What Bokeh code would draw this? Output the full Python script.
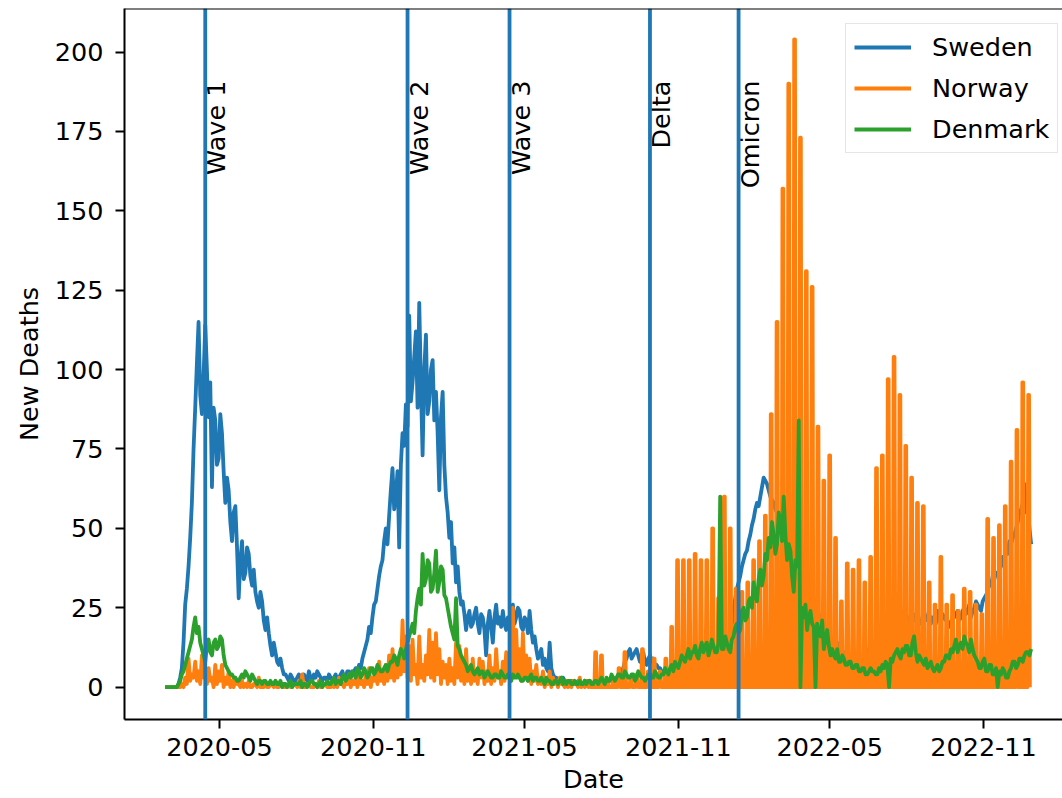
import pandas as pd
from bokeh.plotting import figure
from bokeh.models import (Range1d, FixedTicker, DatetimeTickFormatter, Span,
                          Legend, LegendItem, ColumnDataSource)
from bokeh.core.properties import value
from bokeh.embed import file_html
from bokeh.resources import INLINE

# ---------------- data ----------------
series_start = "2020-02-26"      # first sample, one sample every 2 days
sweden = [
    0, 0, 0, 0, 0, 0, 0, 0, 1, 3, 6, 14, 26, 31, 38, 47, 58, 75, 88, 102,
    115, 92, 86, 98, 114, 100, 85, 96, 63, 88, 84, 70, 72, 86, 80, 68, 58, 66, 62, 52,
    46, 55, 57, 44, 28, 40, 46, 34, 36, 44, 42, 35, 32, 37, 30, 27, 25, 30, 27, 21,
    18, 22, 17, 13, 10, 14, 11, 8, 7, 9, 6, 4, 4, 3, 2, 4, 3, 2, 2, 3,
    4, 3, 2, 4, 3, 2, 5, 3, 2, 4, 3, 5, 4, 3, 2, 3, 3, 2, 4, 3,
    2, 3, 4, 2, 3, 4, 5, 3, 3, 5, 5, 3, 4, 5, 6, 5, 7, 6, 9, 11,
    13, 15, 19, 17, 22, 26, 27, 31, 35, 38, 40, 46, 50, 45, 54, 62, 69, 56, 60, 68,
    44, 70, 80, 76, 89, 82, 117, 90, 96, 104, 112, 88, 121, 95, 73, 100, 111, 86, 90, 100,
    103, 84, 93, 80, 62, 85, 93, 70, 60, 55, 47, 52, 39, 44, 33, 38, 30, 26, 27, 23,
    18, 22, 24, 19, 20, 23, 25, 20, 17, 23, 22, 18, 10, 20, 24, 19, 14, 22, 26, 20,
    22, 19, 24, 20, 18, 22, 20, 24, 26, 20, 22, 25, 24, 19, 18, 22, 21, 17, 24, 18,
    14, 16, 12, 9, 10, 12, 7, 9, 6, 5, 14, 6, 4, 3, 3, 2, 2, 3, 3, 2,
    2, 1, 1, 2, 2, 1, 1, 2, 2, 1, 1, 2, 1, 1, 2, 1, 1, 2, 2, 1,
    1, 2, 2, 1, 1, 2, 2, 3, 3, 2, 2, 3, 4, 5, 6, 8, 9, 11, 12, 9,
    10, 11, 12, 10, 8, 9, 11, 8, 7, 9, 10, 8, 9, 7, 7, 6, 6, 5, 5, 4,
    4, 3, 5, 4, 3, 4, 4, 3, 3, 4, 4, 3, 3, 4, 4, 5, 4, 5, 5, 4,
    5, 6, 6, 5, 5, 7, 7, 8, 8, 9, 9, 11, 10, 12, 12, 13, 14, 16, 17, 20,
    24, 28, 31, 33, 35, 38, 40, 42, 43, 46, 48, 51, 53, 56, 58, 57, 60, 63, 66, 65,
    64, 62, 60, 59, 58, 56, 55, 53, 52, 51, 50, 48, 46, 45, 44, 42, 40, 39, 38, 37,
    35, 34, 33, 31, 30, 29, 28, 27, 26, 25, 24, 23, 22, 21, 20, 19, 18, 17, 16, 15,
    15, 14, 14, 13, 12, 11, 10, 11, 12, 10, 9, 10, 10, 9, 8, 9, 9, 10, 10, 11,
    10, 12, 11, 13, 12, 11, 13, 14, 14, 16, 15, 14, 16, 18, 17, 19, 18, 21, 20, 19,
    22, 20, 24, 23, 22, 21, 20, 22, 21, 23, 22, 20, 20, 22, 24, 21, 22, 23, 20, 22,
    22, 20, 24, 22, 20, 23, 22, 21, 21, 19, 20, 22, 22, 23, 24, 21, 22, 24, 25, 23,
    24, 26, 22, 24, 25, 27, 26, 25, 24, 27, 28, 29, 30, 33, 32, 35, 34, 36, 36, 37,
    38, 41, 40, 43, 42, 46, 45, 47, 48, 50, 52, 55, 56, 58, 64, 55, 56, 50, 45,
]
denmark = [
    0, 0, 0, 0, 0, 0, 0, 0, 1, 2, 4, 5, 7, 9, 11, 13, 15, 19, 22, 17,
    19, 14, 12, 10, 8, 13, 15, 11, 10, 14, 15, 12, 13, 16, 15, 10, 7, 6, 5, 4,
    4, 3, 3, 2, 2, 3, 4, 3, 5, 4, 3, 2, 4, 3, 2, 1, 2, 2, 1, 2,
    2, 1, 1, 2, 1, 1, 2, 1, 1, 2, 0, 1, 1, 0, 1, 2, 0, 1, 1, 1,
    1, 2, 0, 1, 1, 0, 1, 2, 2, 1, 1, 0, 1, 2, 0, 1, 1, 2, 1, 1,
    2, 3, 1, 2, 2, 1, 3, 4, 2, 3, 4, 3, 5, 4, 3, 6, 5, 3, 4, 6,
    5, 3, 4, 6, 6, 4, 5, 7, 6, 5, 5, 6, 7, 5, 7, 8, 8, 10, 9, 7,
    10, 12, 11, 9, 12, 14, 16, 18, 20, 17, 24, 28, 31, 26, 42, 32, 34, 40, 39, 30,
    31, 36, 43, 30, 33, 38, 37, 29, 28, 25, 22, 19, 17, 15, 28, 13, 12, 10, 9, 8,
    7, 5, 6, 7, 5, 4, 5, 6, 4, 5, 5, 3, 4, 5, 4, 3, 3, 4, 4, 3,
    3, 5, 4, 3, 3, 4, 3, 2, 4, 3, 3, 4, 3, 2, 2, 3, 3, 2, 3, 4,
    2, 3, 3, 2, 2, 3, 2, 1, 3, 2, 2, 1, 1, 2, 2, 1, 2, 3, 1, 2,
    1, 2, 2, 1, 1, 2, 1, 1, 2, 1, 1, 2, 1, 2, 2, 1, 1, 2, 2, 1,
    2, 3, 2, 1, 3, 2, 2, 4, 3, 2, 3, 4, 4, 3, 3, 5, 4, 3, 3, 4,
    4, 2, 3, 5, 4, 3, 3, 2, 3, 4, 4, 3, 3, 5, 4, 3, 3, 4, 4, 6,
    5, 4, 6, 7, 5, 8, 7, 6, 8, 10, 9, 8, 10, 12, 9, 11, 11, 13, 10, 9,
    12, 14, 11, 13, 14, 10, 12, 15, 13, 11, 11, 14, 60, 12, 12, 16, 14, 12, 11, 15,
    16, 19, 20, 17, 18, 24, 25, 21, 22, 27, 28, 25, 33, 29, 27, 34, 37, 32, 35, 42,
    40, 47, 44, 52, 48, 42, 45, 55, 52, 46, 60, 48, 40, 45, 43, 35, 30, 40, 38, 84,
    0, 25, 22, 26, 18, 22, 24, 20, 19, 0, 20, 17, 16, 21, 12, 15, 18, 13, 10, 12,
    10, 9, 12, 8, 8, 10, 9, 7, 7, 8, 8, 6, 6, 7, 7, 5, 5, 6, 6, 4,
    4, 5, 6, 5, 5, 4, 4, 6, 5, 7, 6, 8, 7, 0, 9, 8, 10, 11, 12, 10,
    9, 12, 11, 13, 13, 10, 10, 14, 16, 11, 8, 10, 9, 8, 7, 9, 6, 7, 8, 6,
    5, 6, 7, 5, 6, 8, 8, 10, 10, 9, 12, 11, 13, 15, 11, 13, 14, 12, 16, 14,
    13, 11, 15, 12, 10, 9, 8, 6, 6, 8, 9, 5, 5, 7, 7, 4, 4, 6, 0, 5,
    4, 6, 5, 3, 3, 5, 6, 8, 8, 6, 7, 9, 9, 8, 10, 11, 11, 10, 12,
]
norway_daily = [          # same 2-day grid, until mid July 2021
    0, 0, 0, 0, 0, 0, 0, 0, 0, 0, 1, 0, 3, 1, 9, 2, 4, 3, 8, 2,
    5, 1, 10, 3, 4, 1, 6, 2, 3, 0, 7, 1, 5, 2, 7, 0, 3, 1, 5, 0,
    2, 0, 3, 1, 1, 0, 2, 0, 1, 0, 2, 0, 0, 1, 1, 0, 3, 0, 0, 0,
    1, 0, 0, 1, 1, 0, 2, 0, 0, 1, 1, 0, 0, 0, 1, 0, 0, 1, 1, 0,
    2, 0, 4, 0, 0, 1, 1, 0, 0, 0, 1, 0, 2, 0, 0, 1, 1, 0, 0, 0,
    2, 0, 1, 0, 3, 1, 1, 0, 2, 1, 4, 0, 2, 1, 3, 0, 5, 1, 2, 0,
    4, 1, 6, 0, 3, 2, 5, 1, 8, 2, 4, 1, 7, 2, 10, 3, 12, 2, 8, 3,
    9, 4, 21, 5, 16, 3, 13, 2, 15, 4, 7, 1, 16, 3, 7, 2, 10, 4, 18, 3,
    14, 2, 17, 4, 12, 1, 8, 3, 7, 1, 9, 2, 6, 1, 14, 3, 13, 2, 8, 1,
    12, 2, 6, 1, 9, 2, 5, 1, 9, 3, 8, 1, 5, 2, 10, 1, 6, 2, 12, 3,
    5, 1, 8, 2, 11, 3, 4, 2, 25, 4, 18, 3, 12, 2, 17, 3, 10, 2, 9, 1,
    5, 2, 7, 1, 3, 1, 5, 0, 2, 1, 5, 0, 3, 1, 2, 0, 3, 1, 1, 0,
    2, 0, 1, 0, 2, 1, 1, 0, 3, 0, 1, 0, 2,
]
norway_weekly_start = "2021-07-18"   # weekly reports from here on
norway_weekly = [
    2, 11, 10, 2, 2, 6, 11, 3, 4, 12,
    5, 9, 5, 9, 19, 40, 40, 40, 42, 40,
    40, 50, 28, 60, 50, 31, 30, 33, 40, 46,
    54, 86, 115, 157, 190, 204, 173, 131, 126, 82,
    65, 73, 47, 27, 39, 37, 40, 33, 41, 69,
    73, 97, 104, 92, 76, 66, 58, 57, 33, 26,
    41, 26, 29, 24, 31, 30, 26, 23, 53, 47,
    51, 57, 71, 81, 96, 92,
]
event_dates = ["2020-04-14", "2020-12-12", "2021-04-13", "2021-09-28", "2022-01-12"]
event_labels = ["Wave 1", "Wave 2", "Wave 3", "Delta", "Omicron"]
x_tick_labels = ["2020-05", "2020-11", "2021-05", "2021-11", "2022-05", "2022-11"]
y_ticks = [0, 25, 50, 75, 100, 125, 150, 175, 200]
series_names = ["Sweden", "Norway", "Denmark"]
series_colors = ["#1f77b4", "#ff7f0e", "#2ca02c"]

# ---------------- build sources ----------------
grid = pd.date_range(series_start, periods=len(sweden), freq="2D")
src_se = ColumnDataSource(dict(x=grid, y=sweden))
src_dk = ColumnDataSource(dict(x=grid[:len(denmark)], y=denmark))

nx = list(grid[:len(norway_daily)])
ny = list(norway_daily)
wk = pd.date_range(norway_weekly_start, periods=len(norway_weekly), freq="7D")
h = pd.Timedelta(hours=1)
for d, v in zip(wk, norway_weekly):
    nx += [d - 36 * h, d - 12 * h, d + 12 * h, d + 36 * h]
    ny += [0, v, v, 0]
src_no = ColumnDataSource(dict(x=nx, y=ny))

FONT = "DejaVu Sans"
FS = "25.5px"
LW = 3.8

x0 = pd.Timestamp("2020-05-01") - pd.Timedelta(days=113.6)
x1 = pd.Timestamp("2020-05-01") + pd.Timedelta(days=1008.5)

p = figure(width=1062, height=798, x_axis_type="datetime",
           x_range=Range1d(x0, x1), y_range=Range1d(-10.18, 213.7),
           output_backend="svg", toolbar_location=None,
           min_border_left=124, min_border_right=0, min_border_top=8,
           min_border_bottom=79)
p.background_fill_color = "white"
p.border_fill_color = "white"
p.outline_line_color = None
p.xgrid.visible = False
p.ygrid.visible = False

r_se = p.line("x", "y", source=src_se, line_color=series_colors[0], line_width=LW, line_join="round")
r_no = p.line("x", "y", source=src_no, line_color=series_colors[1], line_width=LW, line_join="round")
r_dk = p.line("x", "y", source=src_dk, line_color=series_colors[2], line_width=LW, line_join="round")

# event lines and labels
ev = pd.to_datetime(event_dates)
for d in ev:
    p.add_layout(Span(location=d.timestamp() * 1000, dimension="height",
                      line_color="#1f77b4", line_width=LW))
src_ev = ColumnDataSource(dict(x=ev, y=[191.0] * len(ev), t=event_labels))
p.text(x="x", y="y", text="t", source=src_ev, angle=1.5707963, text_align="right",
       text_baseline="top", text_font=value(FONT), text_font_size=FS,
       text_color="black", x_offset=-4)

# top spine
p.add_layout(Span(location=213.7, dimension="width", line_color="black", line_width=2))

# axes
xt = [pd.Timestamp(s + "-01").timestamp() * 1000 for s in x_tick_labels]
p.xaxis.ticker = FixedTicker(ticks=xt)
p.xaxis.formatter = DatetimeTickFormatter(days="%Y-%m", months="%Y-%m", years="%Y-%m")
p.yaxis.ticker = FixedTicker(ticks=y_ticks)
for ax in (p.xaxis[0], p.yaxis[0]):
    ax.axis_line_color = "black"
    ax.axis_line_width = 2
    ax.major_tick_line_color = "black"
    ax.major_tick_line_width = 2
    ax.major_tick_out = 9
    ax.major_tick_in = 0
    ax.minor_tick_out = 0
    ax.minor_tick_in = 0
    ax.major_label_text_font = FONT
    ax.major_label_text_font_size = FS
    ax.major_label_text_color = "black"
    ax.axis_label_text_font = FONT
    ax.axis_label_text_font_size = FS
    ax.axis_label_text_font_style = "normal"
    ax.axis_label_text_color = "black"
p.xaxis.axis_label = "Date"
p.yaxis.axis_label = "New Deaths"
p.xaxis.major_label_standoff = 9
p.xaxis.axis_label_standoff = 5
p.yaxis.major_label_standoff = 12
p.yaxis.axis_label_standoff = 8

legend = Legend(items=[LegendItem(label=series_names[0], renderers=[r_se]),
                       LegendItem(label=series_names[1], renderers=[r_no]),
                       LegendItem(label=series_names[2], renderers=[r_dk])],
                location=(721, 566))
legend.label_text_font = FONT
legend.label_text_font_size = FS
legend.label_text_color = "black"
legend.glyph_width = 57
legend.label_standoff = 21
legend.spacing = 11
legend.padding = 8
legend.margin = 0
legend.border_line_color = "#cccccc"
legend.border_line_width = 1.5
legend.background_fill_color = "white"
legend.background_fill_alpha = 0.8
p.add_layout(legend)

open("out.html", "w").write(file_html(p, INLINE))
